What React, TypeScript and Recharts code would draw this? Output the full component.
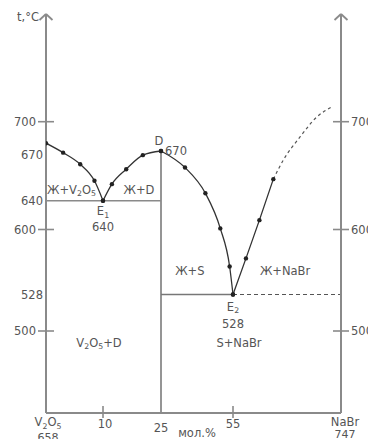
import React from 'react'
import { LineChart, Line, XAxis, YAxis, ReferenceLine, ReferenceDot } from 'recharts'

const FONT = '"DejaVu Sans", sans-serif'
const AXIS = '#8a8a8a'
const INK = '#333'
const TEXT = '#555'
const FS = 11.5

// liquidus branches: [mol.% NaBr, t °C]
const v2o5Branch = [[0, 678], [3, 669], [6, 662], [8.5, 652], [10, 640]]
const dLeftBranch = [[10, 640], [12.3, 650], [16, 659], [20.3, 667.5], [25, 670]]
const dRightBranch = [[25, 670], [35, 660], [43.5, 644.5], [49.7, 601.5], [53.6, 559], [55, 528]]
const nabrBranch = [[55, 528], [60.4, 568], [66, 613], [71.8, 653]]
const nabrDashed = [[71.8, 653], [76, 664.6], [83, 684.6], [90, 705], [95.8, 714.7]]

const E1 = 640
const E2 = 528
const D_MELT = 670
const D_MOL = 25

const xTickMol = [0, 10, 25, 55, 100]
const xTickText: Record<number, string[]> = {
  0: ['V_2O_5', '658'],
  10: ['10'],
  25: ['25'],
  55: ['55'],
  100: ['NaBr', '747'],
}
const yTicksLeft = [500, 528, 600, 640, 670, 700]
const yTicksRight = [500, 600, 700]
const yMajor = [500, 600, 700]

const regionLabels = [
  { text: 'Ж+V_2O_5', mol: 0, t: 640, dx: 1, dy: -11, anchor: 'start' },
  { text: 'Ж+D', mol: 19.3, t: 640, dx: 0, dy: -11, anchor: 'middle' },
  { text: 'E_1', mol: 10, t: 640, dx: 0, dy: 10.5, anchor: 'middle' },
  { text: '640', mol: 10, t: 640, dx: 0, dy: 26, anchor: 'middle' },
  { text: 'D', mol: 25, t: 670, dx: -2, dy: -10, anchor: 'middle' },
  { text: '670', mol: 25, t: 670, dx: 4, dy: 0, anchor: 'start' },
  { text: 'Ж+S', mol: 37, t: 554, dx: 0, dy: 0, anchor: 'middle' },
  { text: 'Ж+NaBr', mol: 76.7, t: 554, dx: 0, dy: 0, anchor: 'middle' },
  { text: 'E_2', mol: 55, t: 528, dx: 0, dy: 12, anchor: 'middle' },
  { text: '528', mol: 55, t: 528, dx: 0, dy: 29.5, anchor: 'middle' },
  { text: 'S+NaBr', mol: 57.5, t: 491, dx: 0, dy: 0, anchor: 'middle' },
  { text: 'V_2O_5+D', mol: 9.3, t: 491, dx: 0, dy: 0, anchor: 'middle' },
  { text: 'мол.%', mol: 40, t: null, dx: 0, dy: 20, anchor: 'middle' },
  { text: 't,°C', mol: 0, t: null, dx: -18, dy: 3, anchor: 'middle', top: true },
]

// the diagram is schematic, axes are piecewise linear
const X_MOL = [0, 10, 25, 55, 100]
const X_POS = [0, 57, 115, 187, 295]
const Y_T = [500, 528, 600, 640, 670, 700]
const Y_POS = [82, 118.5, 183.5, 212.3, 262, 291.3]
const TOP = 399

const interp = (v: number, a: number[], b: number[]) => {
  let i = 0
  while (i < a.length - 2 && v > a[i + 1]) i++
  return b[i] + ((v - a[i]) * (b[i + 1] - b[i])) / (a[i + 1] - a[i])
}
const sx = (m: number) => interp(m, X_MOL, X_POS)
const sy = (t: number) => interp(t, Y_T, Y_POS)
const toXY = (pts: number[][]) => pts.map(([m, t]) => ({ x: sx(m), y: sy(t) }))

const rich = (s: string, size: number) => {
  const parts = s.split(/(_\d)/).filter((p) => p !== '')
  let prevSub = false
  return parts.map((p, i) => {
    if (p[0] === '_') {
      prevSub = true
      return <tspan key={i} dy={2.5} fontSize={size * 0.68}>{p.slice(1)}</tspan>
    }
    const dy = prevSub ? -2.5 : 0
    prevSub = false
    return <tspan key={i} dy={dy}>{p}</tspan>
  })
}

const LeftTick = (props: any) => {
  const { x, y, payload } = props
  const t = yTicksLeft.find((v) => Math.abs(sy(v) - payload.value) < 0.01) as number
  const major = yMajor.includes(t)
  return (
    <g>
      {major && <line x1={x - 8} x2={x + 8} y1={y} y2={y} stroke={AXIS} strokeWidth={1.6} />}
      <text x={major ? x - 10 : x - 3} y={y + 4 + (t === 670 ? 4 : 0)} textAnchor="end"
        fontSize={FS} fontFamily={FONT} fill={TEXT}>{t}</text>
    </g>
  )
}

const RightTick = (props: any) => {
  const { x, y, payload } = props
  const t = yTicksRight.find((v) => Math.abs(sy(v) - payload.value) < 0.01) as number
  return (
    <g>
      <line x1={x - 8} x2={x + 8} y1={y} y2={y} stroke={AXIS} strokeWidth={1.6} />
      <text x={x + 10} y={y + 4} textAnchor="start" fontSize={FS} fontFamily={FONT} fill={TEXT}>{t}</text>
    </g>
  )
}

const BottomTick = (props: any) => {
  const { x, y, payload } = props
  const m = xTickMol.find((v) => Math.abs(sx(v) - payload.value) < 0.01) as number
  const lines = xTickText[m] || []
  const marked = m === 10 || m === 55
  const shiftX = m === 0 ? 2 : m === 100 ? 4 : m === 10 ? 2 : 0
  const base = m === 25 ? 19 : m === 0 || m === 100 ? 13 : 15
  const step = m === 0 ? 15 : 11.5
  return (
    <g>
      {marked && <line x1={x} x2={x} y1={y - 7} y2={y + 5} stroke={AXIS} strokeWidth={1.6} />}
      {lines.map((l, i) => (
        <text key={i} x={x + shiftX} y={y + base + i * step} textAnchor="middle"
          fontSize={i > 0 ? FS - 0.5 : FS} fontFamily={FONT} fill={TEXT}>{rich(l, FS)}</text>
      ))}
    </g>
  )
}

const seg = (a: { x: number; y: number }, b: { x: number; y: number }) => [a, b]

export default function App() {
  const dot = { r: 2.2, fill: '#222', stroke: 'none' }
  const solid = [v2o5Branch, dLeftBranch, dRightBranch, nabrBranch]
  const arrow = (x0: number) => [
    seg({ x: x0 - 6.5, y: TOP - 6 }, { x: x0, y: TOP }),
    seg({ x: x0, y: TOP }, { x: x0 + 6.5, y: TOP - 6 }),
  ]
  return (
    <div style={{ position: 'absolute', left: 0, top: 0 }}>
      <LineChart width={368} height={439} margin={{ top: 14, right: 0, bottom: 0, left: 0 }}>
        <XAxis type="number" dataKey="x" domain={[0, 295]} ticks={xTickMol.map(sx)} interval={0}
          allowDataOverflow height={26} tickSize={0} tickMargin={0} tickLine={false}
          axisLine={{ stroke: AXIS, strokeWidth: 2 }} tick={<BottomTick />} />
        <YAxis type="number" domain={[0, TOP]} ticks={yTicksLeft.map(sy)} interval={0}
          allowDataOverflow width={46} tickSize={0} tickMargin={0} tickLine={false}
          axisLine={{ stroke: AXIS, strokeWidth: 2 }} tick={<LeftTick />} />
        <YAxis yAxisId="r" orientation="right" type="number" domain={[0, TOP]} ticks={yTicksRight.map(sy)}
          interval={0} allowDataOverflow width={27} tickSize={0} tickMargin={0} tickLine={false}
          axisLine={{ stroke: AXIS, strokeWidth: 2 }} tick={<RightTick />} />

        {[...arrow(0), ...arrow(295)].map((s, i) => (
          <ReferenceLine key={'a' + i} segment={s} stroke={AXIS} strokeWidth={1.8} ifOverflow="visible" />
        ))}
        <ReferenceLine segment={seg({ x: sx(0), y: sy(E1) }, { x: sx(D_MOL), y: sy(E1) })}
          stroke={AXIS} strokeWidth={1.6} ifOverflow="visible" />
        <ReferenceLine segment={seg({ x: sx(D_MOL), y: sy(D_MELT) }, { x: sx(D_MOL), y: 0 })}
          stroke={AXIS} strokeWidth={1.8} ifOverflow="visible" />
        <ReferenceLine segment={seg({ x: sx(D_MOL), y: sy(E2) }, { x: sx(55), y: sy(E2) })}
          stroke="#777" strokeWidth={1.4} ifOverflow="visible" />
        <ReferenceLine segment={seg({ x: sx(55), y: sy(E2) }, { x: sx(100), y: sy(E2) })}
          stroke="#555" strokeWidth={1.2} strokeDasharray="4 3" ifOverflow="visible" />

        {solid.map((b, i) => (
          <Line key={'l' + i} data={toXY(b)} dataKey="y" type="monotone" stroke={INK} strokeWidth={1.3}
            dot={dot} activeDot={false} isAnimationActive={false} />
        ))}
        <Line data={toXY(nabrDashed)} dataKey="y" type="monotone" stroke="#555" strokeWidth={1.2}
          strokeDasharray="3 3" dot={false} activeDot={false} isAnimationActive={false} />

        {regionLabels.map((l, i) => (
          <ReferenceDot key={'t' + i} x={sx(l.mol)} y={l.top ? TOP : l.t === null ? 0 : sy(l.t)} r={0}
            ifOverflow="visible"
            shape={(p: any) => (
              <text x={p.cx + l.dx} y={p.cy + l.dy + 4} textAnchor={l.anchor as any}
                fontSize={FS} fontFamily={FONT} fill={TEXT}>{rich(l.text, FS)}</text>
            )} />
        ))}
      </LineChart>
    </div>
  )
}
